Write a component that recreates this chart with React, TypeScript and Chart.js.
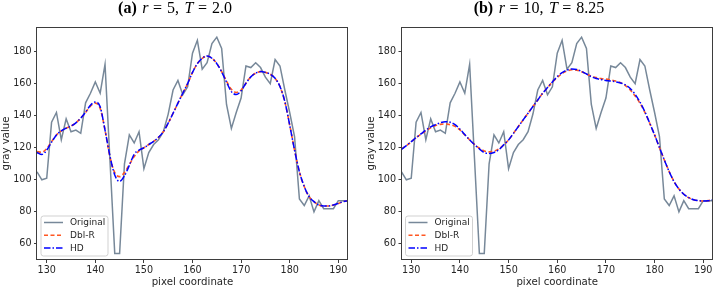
import React, { useEffect, useRef } from 'react';
import { Chart, registerables } from 'chart.js';

Chart.register(...registerables);

// ---------- data ----------
const pixelCoords = [
  128, 129, 130, 131, 132, 133, 134, 135, 136, 137,
  138, 139, 140, 141, 142, 143, 144, 145, 146, 147,
  148, 149, 150, 151, 152, 153, 154, 155, 156, 157,
  158, 159, 160, 161, 162, 163, 164, 165, 166, 167,
  168, 169, 170, 171, 172, 173, 174, 175, 176, 177,
  178, 179, 180, 181, 182, 183, 184, 185, 186, 187,
  188, 189, 190, 191, 192,
];

const original = [
  105, 100, 101, 136, 142, 125, 138, 130, 131, 129,
  148, 154, 161, 154, 172, 113, 54, 54, 110, 128,
  123, 130, 107, 117, 122, 125, 130, 141, 156, 162,
  153, 158, 179, 187, 169, 173, 185, 189, 182, 147,
  132, 142, 151, 171, 170, 173, 170, 164, 160, 175,
  171, 156, 142, 127, 88, 84, 90, 80, 87, 82,
  82, 82, 87, 87, 87,
];

// (a) r = 5, T = 2.0
const dblRA = [
  117.6, 117.2, 119.5, 123.8, 128, 130.5, 132.2, 133.5, 135.5, 138.5,
  142, 146, 147.8, 144.5, 131, 114.5, 104.5, 102, 104.5, 109.5,
  114.5, 118, 120, 122, 124, 126.5, 130, 135.3, 141.5, 147.8,
  154, 160, 167, 172.5, 175.8, 177.2, 175.8, 172.5, 167.5, 161.5,
  156.5, 154.5, 156, 160.2, 164.2, 166.5, 167.5, 167, 165.8, 163.3,
  158.2, 148.8, 134.2, 118.6, 105, 95.8, 89.5, 86.4, 84.3, 83.7,
  83.7, 84.3, 85.3, 86.4, 87,
];
const hdA = [
  117, 115.8, 118.5, 123.5, 128, 130.5, 132.2, 133.5, 135.5, 138.5,
  142.2, 146.5, 148.5, 145.5, 131, 115, 103, 99, 102.5, 109,
  116, 118.5, 120, 122, 124, 126.5, 130, 135.3, 141.5, 147.8,
  154, 160, 167, 172.5, 175.8, 177.2, 175.8, 172.5, 167.3, 161,
  155, 153.2, 155.5, 160.2, 164.2, 166.5, 167.5, 167, 165.8, 163.3,
  158.2, 148.8, 134.2, 118.6, 105, 95.8, 89.5, 86.4, 84.3, 83.7,
  83.7, 84.3, 85.3, 86.4, 87,
];

// (b) r = 10, T = 8.25
const dblRB = [
  119.3, 121.3, 123.8, 126.3, 128.4, 130.5, 132.4, 133.8, 134.6, 134.8,
  134.4, 133.3, 131.1, 128, 124.9, 122, 119.7, 118, 117.4, 117.8,
  119.3, 121.8, 124.9, 129, 133.2, 137.4, 141.5, 145.7, 149.8, 154,
  157.5, 161, 163.8, 166.3, 167.8, 168.6, 168.4, 167.4, 166, 164.6,
  163.8, 163.1, 162.8, 162.3, 161.6, 160.6, 158.8, 156, 152.3, 147.8,
  142.1, 135.3, 128, 120.1, 112.4, 105.1, 98.9, 94.3, 91, 88.9,
  87.6, 87, 86.8, 87, 87.6,
];
const hdB = [
  119, 121.3, 123.8, 126.3, 128.6, 131, 133, 134.4, 135.6, 136.2,
  135.9, 134.4, 131.6, 128.2, 124.9, 122, 119.3, 117, 116.4, 117,
  118.8, 121.8, 124.9, 129, 133.2, 137.4, 141.5, 145.7, 149.8, 154,
  157.5, 161, 164.4, 166.8, 168.4, 169.1, 168.8, 167.6, 166, 164.3,
  163.2, 162.5, 162, 161.6, 161.1, 160.4, 159.2, 157, 153.3, 148.5,
  142.5, 135.3, 128, 120.1, 112.4, 105.1, 98.9, 94.3, 91, 88.9,
  87.6, 87, 86.8, 87, 87.6,
];

const seriesNames = ['Original', 'Dbl-R', 'HD'];
const xTicks = [130, 140, 150, 160, 170, 180, 190];
const yTicks = [60, 80, 100, 120, 140, 160, 180];
const xLabel = 'pixel coordinate';
const yLabel = 'gray value';

const titleA = [
  { t: '(a)', s: 'bold' }, { t: 'r', s: 'italic' }, { t: '=', s: '' }, { t: '5,', s: '' },
  { t: 'T', s: 'italic' }, { t: '=', s: '' }, { t: '2.0', s: '' },
];
const titleB = [
  { t: '(b)', s: 'bold' }, { t: 'r', s: 'italic' }, { t: '=', s: '' }, { t: '10,', s: '' },
  { t: 'T', s: 'italic' }, { t: '=', s: '' }, { t: '8.25', s: '' },
];
const titleGaps = [5.5, 4.5, 5, 5.5, 4.5, 5];

// ---------- styles ----------
const SANS = '"DejaVu Sans", sans-serif';
const TEXT = '#262626';
const SPINE = '#3d3d3d';

// ---------- plugins ----------
const framePlugin = {
  id: 'frame',
  afterDraw(chart: any) {
    const { ctx, chartArea: a } = chart;
    ctx.save();
    ctx.strokeStyle = SPINE;
    ctx.lineWidth = 1;
    const x0 = Math.round(a.left) - 0.5;
    const y0 = Math.round(a.top) + 0.5;
    const x1 = Math.round(a.right) - 0.5;
    const y1 = Math.round(a.bottom) - 0.5;
    ctx.strokeRect(x0, y0, x1 - x0, y1 - y0);
    ctx.restore();
  },
};

const titlePlugin = {
  id: 'mathTitle',
  afterDraw(chart: any, _args: any, opts: any) {
    const ctx = chart.ctx;
    const segs = opts.segments as { t: string; s: string }[];
    const gaps = opts.gaps as number[];
    const fontOf = (s: string) => `${s ? s + ' ' : ''}${opts.size}px "Liberation Serif", "DejaVu Serif", serif`;
    ctx.save();
    const widths = segs.map((g) => {
      ctx.font = fontOf(g.s);
      return ctx.measureText(g.t).width;
    });
    const total = widths.reduce((a, b) => a + b, 0) + gaps.reduce((a, b) => a + b, 0);
    let x = opts.cx - total / 2;
    ctx.fillStyle = '#000';
    ctx.textBaseline = 'alphabetic';
    ctx.textAlign = 'left';
    segs.forEach((g, i) => {
      ctx.font = fontOf(g.s);
      ctx.fillText(g.t, x, opts.baseline);
      x += widths[i] + (gaps[i] || 0);
    });
    ctx.restore();
  },
};

const legendPlugin = {
  id: 'boxLegend',
  afterDraw(chart: any) {
    const { ctx, chartArea: a } = chart;
    const bx = a.left + 3.5;
    const bw = 67;
    const bh = 40;
    const by = a.bottom - 4.5 - bh;
    ctx.save();
    ctx.beginPath();
    if (ctx.roundRect) ctx.roundRect(bx + 0.5, by + 0.5, bw, bh, 2.5);
    else ctx.rect(bx + 0.5, by + 0.5, bw, bh);
    ctx.fillStyle = 'rgba(255,255,255,0.8)';
    ctx.fill();
    ctx.strokeStyle = 'rgba(204,204,204,0.9)';
    ctx.lineWidth = 1;
    ctx.stroke();
    chart.data.datasets.forEach((ds: any, i: number) => {
      const y = by + 7 + i * 12.8;
      ctx.beginPath();
      ctx.setLineDash(ds.borderDash || []);
      ctx.strokeStyle = ds.borderColor;
      ctx.lineWidth = ds.borderWidth;
      ctx.moveTo(bx + 3.5, y);
      ctx.lineTo(bx + 22.5, y);
      ctx.stroke();
      ctx.setLineDash([]);
      ctx.fillStyle = TEXT;
      ctx.font = `9px ${SANS}`;
      ctx.textBaseline = 'middle';
      ctx.textAlign = 'left';
      ctx.fillText(ds.label, bx + 29.5, y + 0.5);
    });
    ctx.restore();
  },
};

// ---------- chart builder ----------
function toPoints(vals: number[]) {
  return pixelCoords.map((x, i) => ({ x, y: vals[i] }));
}

function buildConfig(p: {
  dbl: number[];
  hd: number[];
  title: { t: string; s: string }[];
  titleCx: number;
  yAxisWidth: number;
  yTitlePad: number;
  padRight: number;
}): any {
  const tickFont = { family: SANS, size: 9.6 };
  const titleFont = { family: SANS, size: 10.2 };
  return {
    type: 'line',
    data: {
      datasets: [
        {
          label: seriesNames[0], data: toPoints(original), borderColor: '#778899',
          borderWidth: 1.5, pointRadius: 0, tension: 0, order: 3, fill: false,
        },
        {
          label: seriesNames[1], data: toPoints(p.dbl), borderColor: '#ff5722',
          borderWidth: 1.6, borderDash: [4, 2.5], pointRadius: 0,
          cubicInterpolationMode: 'monotone', order: 2, fill: false,
        },
        {
          label: seriesNames[2], data: toPoints(p.hd), borderColor: '#0000ff',
          borderWidth: 1.5, borderDash: [6.5, 2, 1.5, 2], pointRadius: 0,
          cubicInterpolationMode: 'monotone', order: 1, fill: false,
        },
      ],
    },
    options: {
      responsive: false,
      animation: false,
      events: [],
      layout: { padding: { top: 27, right: p.padRight, left: 0, bottom: 0 } },
      plugins: {
        legend: { display: false },
        tooltip: { enabled: false },
        mathTitle: { segments: p.title, gaps: titleGaps, cx: p.titleCx, baseline: 12.5, size: 16 },
      },
      scales: {
        x: {
          type: 'linear',
          min: 128,
          max: 192,
          afterBuildTicks: (s: any) => { s.ticks = xTicks.map((v) => ({ value: v })); },
          afterFit: (s: any) => { s.height = 29; },
          grid: { display: true, drawOnChartArea: false, drawTicks: true, tickLength: 3, color: SPINE, lineWidth: 1 },
          border: { display: false },
          ticks: { font: tickFont, color: TEXT, padding: 1.5, maxRotation: 0, autoSkip: false, callback: (v: any) => String(v) },
          title: { display: true, text: xLabel, font: titleFont, color: TEXT, padding: { top: 0, bottom: 1 } },
        },
        y: {
          type: 'linear',
          min: 50,
          max: 195.3,
          afterBuildTicks: (s: any) => { s.ticks = yTicks.map((v) => ({ value: v })); },
          afterFit: (s: any) => { s.width = p.yAxisWidth; },
          grid: { display: true, drawOnChartArea: false, drawTicks: true, tickLength: 3, color: SPINE, lineWidth: 1 },
          border: { display: false },
          ticks: { font: tickFont, color: TEXT, padding: 2.5, autoSkip: false, callback: (v: any) => String(v) },
          title: { display: true, text: yLabel, font: titleFont, color: TEXT, padding: { top: p.yTitlePad, bottom: 0 } },
        },
      },
    },
    plugins: [framePlugin, titlePlugin, legendPlugin],
  };
}

function Panel(props: { left: number; cfg: any }) {
  const ref = useRef<HTMLCanvasElement | null>(null);
  useEffect(() => {
    if (!ref.current) return;
    const chart = new Chart(ref.current, props.cfg);
    return () => chart.destroy();
  }, []);
  return (
    <canvas
      ref={ref}
      width={357}
      height={289}
      style={{ position: 'absolute', left: props.left, top: 0, width: 357, height: 289 }}
    />
  );
}

export default function App() {
  const cfgA = buildConfig({ dbl: dblRA, hd: hdA, title: titleA, titleCx: 175, yAxisWidth: 37, yTitlePad: 0, padRight: 9 });
  const cfgB = buildConfig({ dbl: dblRB, hd: hdB, title: titleB, titleCx: 182, yAxisWidth: 44.5, yTitlePad: 8, padRight: 1 });
  return (
    <div style={{ position: 'absolute', left: 0, top: 0, width: 714, height: 289, background: '#fff', overflow: 'hidden' }}>
      <Panel left={0} cfg={cfgA} />
      <Panel left={357} cfg={cfgB} />
    </div>
  );
}
